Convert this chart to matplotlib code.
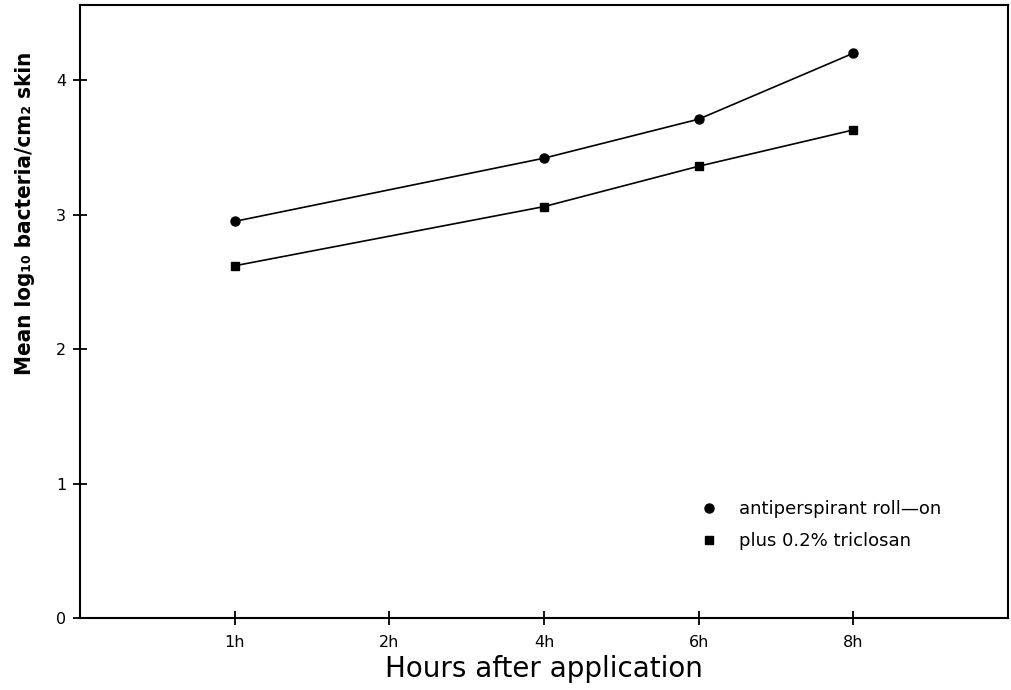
import matplotlib.pyplot as plt
from matplotlib.lines import Line2D

# hours after application (plotted at evenly spaced slots)
hours = ["1h", "2h", "4h", "6h", "8h"]
slots = [1, 2, 3, 4, 5]

# mean log10 bacteria / cm2 skin
roll_on_slots = [1, 3, 4, 5]
roll_on = [2.95, 3.42, 3.71, 4.20]
triclosan_slots = [1, 3, 4, 5]
triclosan = [2.62, 3.06, 3.36, 3.63]

fig = plt.figure(figsize=(10.12, 6.9), dpi=100)
ax = fig.add_axes([0.079, 0.104, 0.917, 0.889])

ax.plot(roll_on_slots, roll_on, '-o', color='black', lw=1.2, ms=6.5)
ax.plot(triclosan_slots, triclosan, '-s', color='black', lw=1.2, ms=6)

ax.set_xlim(0, 6)
ax.set_ylim(0, 4.56)
ax.set_xticks(slots)
ax.set_xticklabels(hours)
ax.set_yticks([0, 1, 2, 3, 4])

for s in ax.spines.values():
    s.set_linewidth(1.5)
ax.tick_params(direction='inout', length=10, width=1.3, labelsize=11.5, pad=7)
ax.tick_params(axis='y', pad=5)
for lab in ax.get_xticklabels() + ax.get_yticklabels():
    lab.set_family('DejaVu Sans')

ax.set_xlabel("Hours after application", fontsize=20, family='DejaVu Sans', labelpad=4)
ax.set_ylabel("Mean log\u2081\u2080 bacteria/cm\u2082 skin", fontsize=16,
              family=['DejaVu Sans'], fontstretch='condensed', fontweight='bold')
ax.yaxis.set_label_coords(-0.0485, 0.66)

handles = [Line2D([], [], ls='none', marker='o', color='black', ms=6.5),
           Line2D([], [], ls='none', marker='s', color='black', ms=6)]
ax.legend(handles, ["antiperspirant roll\u2014on", "plus 0.2% triclosan"],
          loc='upper left', bbox_to_anchor=(0.658, 0.207), frameon=False,
          prop={'family': 'DejaVu Sans', 'size': 13}, borderpad=0,
          handlelength=1, handletextpad=1.2, labelspacing=0.75)

fig.savefig("out.png", dpi=100)
